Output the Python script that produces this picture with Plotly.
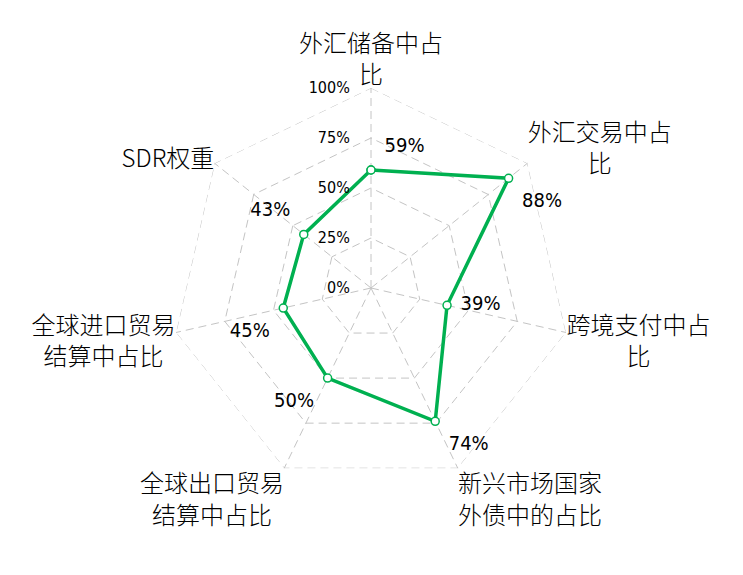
import plotly.graph_objects as go

# ==============================
# dados
# ==============================
# \u3000 / \u2002 = espaços largos para centralizar a 2ª linha
categorias = [
    "外汇储备中占<br>比",
    "外汇交易中占<br>\u3000\u3000\u2002比",
    "跨境支付中占<br>\u3000\u3000\u2002比",
    "新兴市场国家<br>外债中的占比",
    "全球出口贸易<br>结算中占比\u2002",
    "全球进口贸易<br>结算中占比\u2002",
    "SDR权重",
]
valores = [59, 88, 39, 74, 50, 45, 43]
rotulos = ["59%", "88%", "39%", "74%", "50%", "45%", "43%"]
ticks_r = [0, 25, 50, 75, 100]
ticks_r_txt = ["0%", "25%", "50%", "75%", "100%"]

# posição do texto de cada ponto
pos_texto = ["top right", "bottom right", "middle right", "bottom right",
             "bottom left", "bottom left", "top left"]

verde = "#00B050"
cinza = "#C4C4C4"
tracejado = "8px,5px"
fonte_num = "Liberation Sans Narrow, DejaVu Sans Condensed, sans-serif"
fonte_cjk = "Noto Sans CJK SC, Liberation Sans Narrow"

fig = go.Figure()

# anel externo (100%) tracejado - o plotly não desenha a grade na borda
fig.add_trace(go.Scatterpolar(
    r=[ticks_r[-1]] * (len(categorias) + 1),
    theta=categorias + categorias[:1],
    mode="lines",
    line=dict(color=cinza, width=1, dash=tracejado),
    hoverinfo="skip",
    showlegend=False,
))

# linha fechada
fig.add_trace(go.Scatterpolar(
    r=valores + valores[:1],
    theta=categorias + categorias[:1],
    mode="lines+markers",
    line=dict(color=verde, width=3.5),
    marker=dict(size=8, color="white", line=dict(color=verde, width=1.5)),
    hoverinfo="skip",
    showlegend=False,
))

# rótulos dos valores (marcador invisível só para afastar o texto)
fig.add_trace(go.Scatterpolar(
    r=valores,
    theta=categorias,
    mode="markers+text",
    marker=dict(size=20, opacity=0),
    text=rotulos,
    textposition=pos_texto,
    textfont=dict(size=20, color="black", family=fonte_num),
    hoverinfo="skip",
    showlegend=False,
))

# o body da página tem 8px de margem -> compensado nas margens
fig.update_layout(
    width=743,
    height=575,
    paper_bgcolor="white",
    plot_bgcolor="white",
    margin=dict(l=163, r=180, t=80, b=95),
    font=dict(family=fonte_cjk, color="black"),
    polar=dict(
        bgcolor="white",
        gridshape="linear",
        radialaxis=dict(
            range=[0, 100],
            tickvals=ticks_r,
            ticktext=[t + "\u00a0\u00a0\u00a0\u00a0" for t in ticks_r_txt],
            angle=90,
            tickangle=90,
            side="counterclockwise",
            showline=False,
            ticks="",
            gridcolor=cinza,
            griddash=tracejado,
            gridwidth=1,
            tickfont=dict(size=16, color="black", family=fonte_num),
        ),
        angularaxis=dict(
            rotation=90,
            direction="clockwise",
            showline=False,
            ticks="",
            gridcolor=cinza,
            griddash=tracejado,
            gridwidth=1,
            tickfont=dict(size=24, color="black", family=fonte_cjk, weight=300),
        ),
    ),
)

fig.write_html("out.html")
